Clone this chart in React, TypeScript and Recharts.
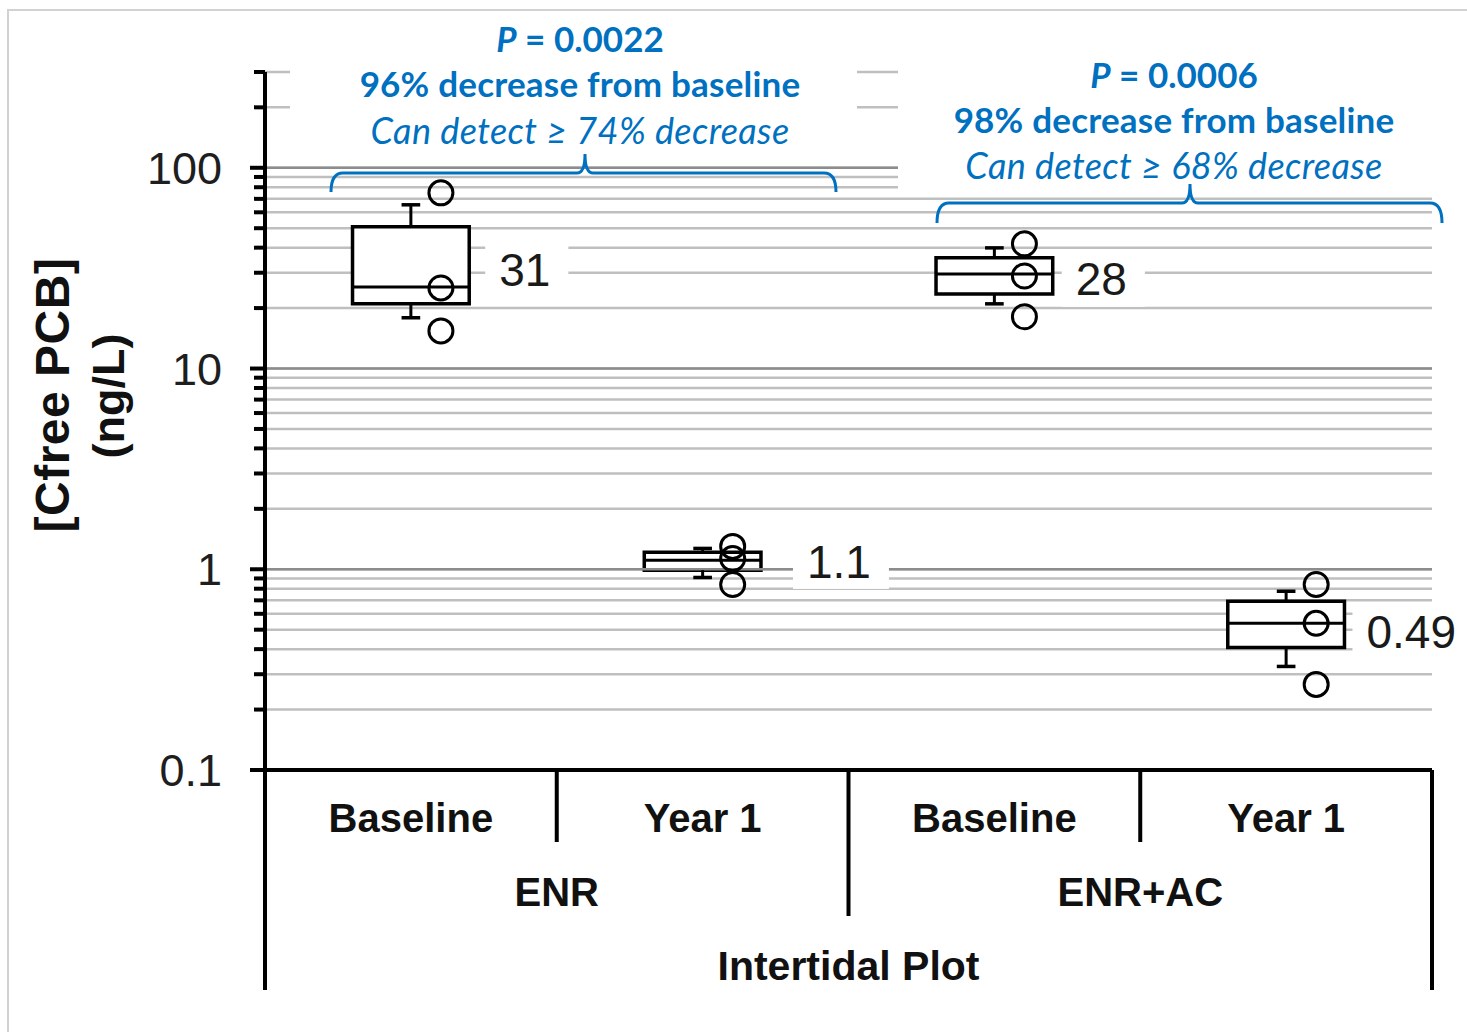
import React from 'react';
import {
  ComposedChart,
  Scatter,
  XAxis,
  YAxis,
  CartesianGrid,
  ReferenceArea,
  ReferenceLine,
} from 'recharts';

// categories along the bottom
const categories = ['Baseline', 'Year 1', 'Baseline', 'Year 1'];
const treatments = ['ENR', 'ENR+AC'];
const plotName = 'Intertidal Plot';

// box plot values (ng/L)
const whiskerLow = [17.9, 0.91, 21.0, 0.328];
const quartile1 = [21.0, 0.99, 23.5, 0.408];
const medians = [25.5, 1.11, 29.6, 0.538];
const quartile3 = [50.8, 1.215, 35.6, 0.693];
const whiskerHigh = [65.4, 1.27, 39.9, 0.777];
const samples = [
  [75, 25.2, 15.4],
  [1.3, 1.13, 0.84],
  [41.8, 28.9, 18.1],
  [0.84, 0.538, 0.267],
];
const summaryValues = [31, 1.1, 28, 0.49];
const summaryLabels = ['31', '1.1', '28', '0.49'];

// log axis ticks
const yTicks = [
  0.1, 0.2, 0.3, 0.4, 0.5, 0.6, 0.7, 0.8, 0.9,
  1, 2, 3, 4, 5, 6, 7, 8, 9,
  10, 20, 30, 40, 50, 60, 70, 80, 90,
  100, 200, 300,
];
const yMajor = [0.1, 1, 10, 100];
const yMajorLabels = ['0.1', '1', '10', '100'];

// annotation text
const pValues = ['0.0022', '0.0006'];
const decreases = ['96% decrease from baseline', '98% decrease from baseline'];
const detectable = ['Can detect \u2265 74% decrease', 'Can detect \u2265 68% decrease'];

const W = 1467;
const H = 1032;
const LEFT = 265;
const RIGHT = 1432;
const TOP = 72;
const BOTTOM = 770;
const AXIS_W = 100;
const CELL = (RIGHT - LEFT) / categories.length;

const BOX_HALF = 0.2;
const CAP_HALF = 0.032;
const POINT_SHIFT = 0.103;
const labelGap = [30, 46, 23, 22];

const AXIS_FONT = '"Liberation Sans", Arial, sans-serif';
const BLUE_FONT = 'Lato, "Open Sans", sans-serif';
const BLUE = '#0070C0';

const pointData = samples.flatMap((vals, i) =>
  vals.map((v) => ({ x: i + 0.5 + POINT_SHIFT, y: v }))
);
const labelData = summaryValues.map((v, i) => ({
  x: i + 0.5 + BOX_HALF,
  y: v,
  text: summaryLabels[i],
  gap: labelGap[i],
}));

const textWidth = (s: string, size: number) =>
  s.split('').reduce((w, c) => w + (c === '.' ? 0.278 : 0.556) * size, 0);

const YTick = (props: any) => {
  const { x, y, payload } = props;
  const idx = yMajor.indexOf(payload.value);
  const major = idx >= 0;
  return (
    <g>
      <line x1={x - (major ? 15 : 11)} x2={x} y1={y} y2={y} stroke="#000" strokeWidth={4} />
      {major && (
        <text
          x={x - 43}
          y={y}
          dy="0.36em"
          textAnchor="end"
          fontSize={45}
          fontFamily={AXIS_FONT}
          fill="#1e1e1e"
        >
          {yMajorLabels[idx]}
        </text>
      )}
    </g>
  );
};

const PointShape = (props: any) => {
  const { cx, cy } = props;
  return <circle cx={cx} cy={cy} r={12} fill="none" stroke="#000" strokeWidth={3} />;
};

const LabelShape = (props: any) => {
  const { cx, cy, payload } = props;
  const tw = textWidth(payload.text, 46);
  return (
    <g>
      <rect x={cx + payload.gap - 14} y={cy - 28} width={tw + 32} height={56} fill="#fff" />
      <text
        x={cx + payload.gap}
        y={cy}
        dy="0.36em"
        fontSize={46}
        fontFamily={AXIS_FONT}
        fill="#1a1a1a"
      >
        {payload.text}
      </text>
    </g>
  );
};

const annotations = [
  { cx: 580, lines: [40, 85, 131], rect: [290, 15, 567, 145], br: { x1: 331, x2: 836, y: 173, end: 192, mid: 585, peak: 154 } },
  { cx: 1174, lines: [76, 121, 166], rect: [898, 45, 569, 148], br: { x1: 937, x2: 1442, y: 203, end: 223, mid: 1190, peak: 184 } },
];

const bracketPath = (b: any) =>
  `M ${b.x1} ${b.end} Q ${b.x1} ${b.y} ${b.x1 + 12} ${b.y} L ${b.mid - 8} ${b.y} ` +
  `Q ${b.mid} ${b.y} ${b.mid} ${b.peak} Q ${b.mid} ${b.y} ${b.mid + 8} ${b.y} ` +
  `L ${b.x2 - 12} ${b.y} Q ${b.x2} ${b.y} ${b.x2} ${b.end}`;

const Overlay = () => (
  <svg width={W} height={H} style={{ position: 'absolute', left: 0, top: 0, pointerEvents: 'none' }}>
    {annotations.map((a, i) => (
      <g key={i}>
        <rect x={a.rect[0]} y={a.rect[1]} width={a.rect[2]} height={a.rect[3]} fill="#fff" />
        <text x={a.cx} y={a.lines[0]} dy="0.35em" textAnchor="middle" fontFamily={BLUE_FONT} fontSize={35} fontWeight="bold" fill={BLUE}>
          <tspan fontStyle="italic">P</tspan> = {pValues[i]}
        </text>
        <text x={a.cx} y={a.lines[1]} dy="0.35em" textAnchor="middle" fontFamily={BLUE_FONT} fontSize={35} fontWeight="bold" fill={BLUE} letterSpacing={0.2}>
          {decreases[i]}
        </text>
        <text x={a.cx} y={a.lines[2]} dy="0.35em" textAnchor="middle" fontFamily={BLUE_FONT} fontSize={36} fontStyle="italic" fill={BLUE} letterSpacing={0.4}>
          {detectable[i]}
        </text>
        <path d={bracketPath(a.br)} fill="none" stroke={BLUE} strokeWidth={3} />
      </g>
    ))}

    {/* category table under the axis */}
    <line x1={LEFT} x2={LEFT} y1={BOTTOM} y2={990} stroke="#000" strokeWidth={4} />
    <line x1={RIGHT} x2={RIGHT} y1={BOTTOM} y2={990} stroke="#000" strokeWidth={4} />
    <line x1={LEFT + CELL * 2} x2={LEFT + CELL * 2} y1={BOTTOM} y2={916} stroke="#000" strokeWidth={4} />
    <line x1={LEFT + CELL} x2={LEFT + CELL} y1={BOTTOM} y2={842} stroke="#000" strokeWidth={4} />
    <line x1={LEFT + CELL * 3} x2={LEFT + CELL * 3} y1={BOTTOM} y2={842} stroke="#000" strokeWidth={4} />
    {categories.map((c, i) => (
      <text key={i} x={LEFT + CELL * (i + 0.5)} y={818} dy="0.35em" textAnchor="middle" fontFamily={AXIS_FONT} fontSize={40} fontWeight="bold" fill="#111">
        {c}
      </text>
    ))}
    {treatments.map((t, i) => (
      <text key={i} x={LEFT + CELL * (2 * i + 1)} y={892} dy="0.35em" textAnchor="middle" fontFamily={AXIS_FONT} fontSize={40} fontWeight="bold" fill="#111">
        {t}
      </text>
    ))}
    <text x={(LEFT + RIGHT) / 2} y={966} dy="0.35em" textAnchor="middle" fontFamily={AXIS_FONT} fontSize={41} fontWeight="bold" fill="#111">
      {plotName}
    </text>

    {/* y axis title */}
    <text x={52} y={395} dy="0.35em" textAnchor="middle" transform="rotate(-90, 52, 395)" fontFamily={AXIS_FONT} fontSize={48} fontWeight="bold" fill="#111" letterSpacing={0.5}>
      [Cfree PCB]
    </text>
    <text x={108} y={396} dy="0.35em" textAnchor="middle" transform="rotate(-90, 108, 396)" fontFamily={AXIS_FONT} fontSize={45} fontWeight="bold" fill="#111">
      (ng/L)
    </text>
  </svg>
);

export default function App() {
  return (
    <div style={{ position: 'fixed', left: 0, top: 0, width: W, height: H, overflow: 'hidden', background: '#fff' }}>
      <div style={{ position: 'absolute', left: 7, top: 9, width: 1600, height: 1200, border: '2px solid #d2d2d2' }} />
      <div style={{ position: 'absolute', left: 0, top: 0 }}>
        <ComposedChart
          width={W}
          height={H}
          margin={{ top: TOP, right: W - RIGHT, bottom: H - BOTTOM, left: LEFT - AXIS_W }}
        >
          <CartesianGrid vertical={false} stroke="#bfbfbf" strokeWidth={2.5} />
          <XAxis type="number" dataKey="x" domain={[0, 4]} hide />
          <YAxis
            type="number"
            dataKey="y"
            scale="log"
            domain={[0.1, 300]}
            ticks={yTicks}
            interval={0}
            width={AXIS_W}
            tickSize={0}
            tickMargin={0}
            tickLine={false}
            tick={<YTick />}
            axisLine={{ stroke: '#000', strokeWidth: 4 }}
          />
          {yMajor.slice(1).map((v) => (
            <ReferenceLine key={v} y={v} stroke="#8c8c8c" strokeWidth={2.5} />
          ))}
          <ReferenceLine y={0.1} stroke="#000" strokeWidth={4} />

          {categories.map((_, i) => {
            const c = i + 0.5;
            return (
              <React.Fragment key={i}>
                <ReferenceLine segment={[{ x: c, y: quartile3[i] }, { x: c, y: whiskerHigh[i] }]} stroke="#000" strokeWidth={3} />
                <ReferenceLine segment={[{ x: c, y: whiskerLow[i] }, { x: c, y: quartile1[i] }]} stroke="#000" strokeWidth={3} />
                <ReferenceLine segment={[{ x: c - CAP_HALF, y: whiskerHigh[i] }, { x: c + CAP_HALF, y: whiskerHigh[i] }]} stroke="#000" strokeWidth={3.5} />
                <ReferenceLine segment={[{ x: c - CAP_HALF, y: whiskerLow[i] }, { x: c + CAP_HALF, y: whiskerLow[i] }]} stroke="#000" strokeWidth={3.5} />
                <ReferenceArea x1={c - BOX_HALF} x2={c + BOX_HALF} y1={quartile1[i]} y2={quartile3[i]} fill="#fff" fillOpacity={1} stroke="#000" strokeWidth={3.5} />
                <ReferenceLine segment={[{ x: c - BOX_HALF, y: medians[i] }, { x: c + BOX_HALF, y: medians[i] }]} stroke="#000" strokeWidth={3} />
              </React.Fragment>
            );
          })}

          <Scatter data={pointData} shape={<PointShape />} isAnimationActive={false} />
          <Scatter data={labelData} shape={<LabelShape />} isAnimationActive={false} />
        </ComposedChart>
      </div>
      <Overlay />
    </div>
  );
}
